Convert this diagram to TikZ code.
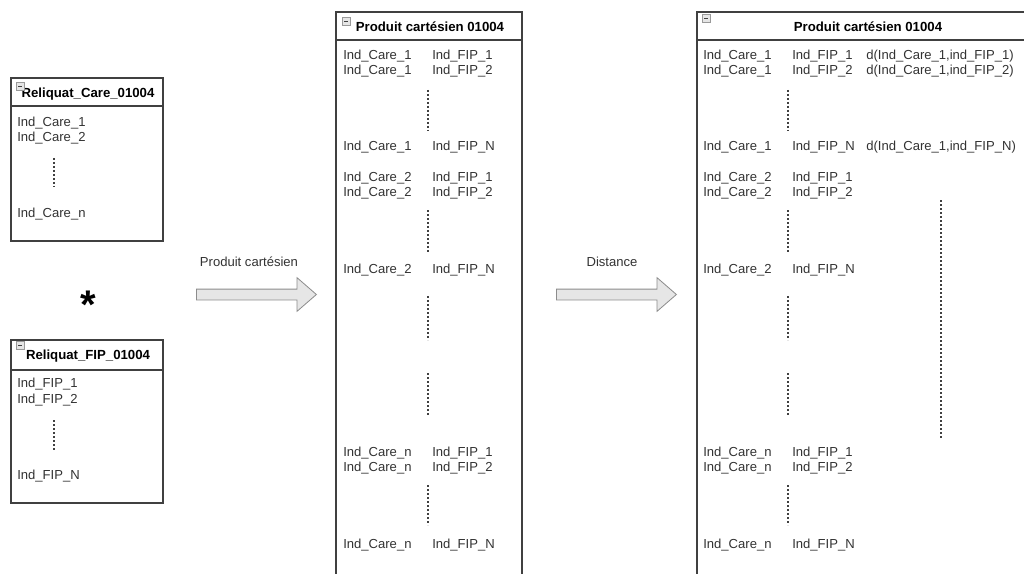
\documentclass[tikz,border=0pt]{standalone}
\usepackage{fontspec}
\setmainfont{Liberation Sans}
\usetikzlibrary{shapes.arrows}

\definecolor{linegray}{HTML}{404040}
\definecolor{textgray}{HTML}{333333}
\definecolor{arrowfill}{HTML}{E6E6E6}
\definecolor{arrowline}{HTML}{8C8C8C}

\tikzset{
  panel/.style={draw=linegray, line width=1pt},
  item/.style={anchor=west, inner sep=0pt, text=textgray, font=\fontsize{9.8}{11}\selectfont},
  lbl/.style={inner sep=0pt, text=textgray, font=\fontsize{9.8}{11}\selectfont},
  title/.style={inner sep=0pt, font=\fontsize{9.9}{11}\selectfont\bfseries},
  vdots/.style={draw=linegray, line width=0.8pt, dash pattern=on 1.3pt off 1.7pt},
  minusbox/.style={draw=gray!80, fill=gray!20, line width=0.4pt},
  bigarrow/.style={single arrow, draw=arrowline, fill=arrowfill, line width=0.6pt,
    minimum height=90pt, inner xsep=0pt, inner ysep=3.75pt,
    single arrow head extend=8.6pt, single arrow tip angle=82}
}

\begin{document}
\begin{tikzpicture}[x=0.75pt, y=-0.75pt]
  \clip (0,0) rectangle (1024,574);
  \fill[white] (0,0) rectangle (1024,574);

  % tables of departure
  \draw[panel] (11,78) rectangle (163,241);
  \draw[panel] (11,106) -- (163,106);
  \node[title] (caretitle) at (88,94) {Reliquat\_Care\_01004};
  \node[item] (care1) at (17,123.5) {Ind\_Care\_1};
  \node[item] (care2) at (17,138.5) {Ind\_Care\_2};
  \node[item] (caren) at (17,214.5) {Ind\_Care\_n};

  \node[font=\fontsize{30}{30}\selectfont\bfseries, inner sep=0pt] (star) at (88,305) {*};

  \draw[panel] (11,340) rectangle (163,503);
  \draw[panel] (11,370) -- (163,370);
  \node[title] (fiptitle) at (88,356) {Reliquat\_FIP\_01004};
  \node[item] (fip1) at (17,384.5) {Ind\_FIP\_1};
  \node[item] (fip2) at (17,400.5) {Ind\_FIP\_2};
  \node[item] (fipn) at (17,476.5) {Ind\_FIP\_N};

  % cartesian product
  \draw[panel] (336,12) rectangle (522,600);
  \draw[panel] (336,40) -- (522,40);
  \node[title] (prodtitle) at (430,27) {Produit cartésien 01004};
  \foreach \y/\c/\f [count=\i] in {56.5/1/1,71.5/1/2,147.5/1/N,178.5/2/1,193.5/2/2,270.5/2/N,453.5/n/1,468.5/n/2,545.5/n/N} {
    \node[item] (m\i c) at (343,\y) {Ind\_Care\_\c};
    \node[item] (m\i f) at (432,\y) {Ind\_FIP\_\f};
  }

  % distances
  \draw[panel] (697,12) rectangle (1040,600);
  \draw[panel] (697,40) -- (1040,40);
  \node[title] (disttitle) at (868,27) {Produit cartésien 01004};
  \foreach \y/\c/\f [count=\i] in {56.5/1/1,71.5/1/2,147.5/1/N,178.5/2/1,193.5/2/2,270.5/2/N,453.5/n/1,468.5/n/2,545.5/n/N} {
    \node[item] (r\i c) at (703,\y) {Ind\_Care\_\c};
    \node[item] (r\i f) at (792,\y) {Ind\_FIP\_\f};
  }
  \foreach \y/\f [count=\i] in {56.5/1,71.5/2,147.5/N}
    \node[item] (d\i) at (866,\y) {d(Ind\_Care\_1,ind\_FIP\_\f)};

  % dotted gaps
  \draw[vdots] (54,158) -- (54,187);
  \draw[vdots] (54,420) -- (54,450);
  \foreach \a/\b in {90/131,210/252,296/340,373/415,485/525} {
    \draw[vdots] (428,\a) -- (428,\b);
    \draw[vdots] (788,\a) -- (788,\b);
  }
  \draw[vdots] (941,200) -- (941,438);

  % collapse icons
  \foreach \p in {(16,82),(16,341),(342,17),(702,14)} {
    \draw[minusbox] \p rectangle ++(8,8);
    \draw[line width=0.6pt, draw=linegray] \p ++(2,4) -- ++(4,0);
  }

  % block arrows
  \node[lbl] (prodlbl) at (249,262) {Produit cartésien};
  \node[bigarrow, anchor=tail] (arrowA) at (196,294.5) {};
  \node[lbl] (distlbl) at (612,262) {Distance};
  \node[bigarrow, anchor=tail] (arrowB) at (556,294.5) {};
\end{tikzpicture}
\end{document}
